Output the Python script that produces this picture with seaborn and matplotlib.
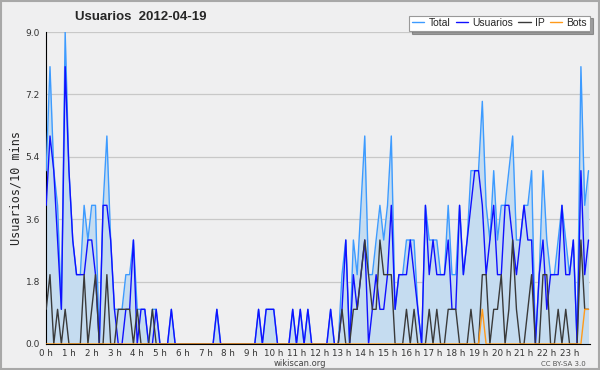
import numpy as np
import pandas as pd
import matplotlib
matplotlib.use("Agg")
import matplotlib.pyplot as plt
from matplotlib.patches import Rectangle
from matplotlib.ticker import MultipleLocator, FixedLocator
import seaborn as sns

# ─── DATA (users per 10 min, 2012-04-19) ────────────────
hour_labels = [f"{h} h" for h in range(24)]

usuarios = [4, 6, 5, 3, 1, 8, 5, 3, 2, 2, 2, 3,
            3, 2, 0, 4, 4, 3, 1, 0, 0, 1, 1, 3,
            0, 1, 1, 0, 0, 1, 0, 0, 0, 1, 0, 0,
            0, 0, 0, 0, 0, 0, 0, 0, 0, 1, 0, 0,
            0, 0, 0, 0, 0, 0, 0, 0, 1, 0, 1, 1,
            1, 0, 0, 0, 0, 1, 0, 1, 0, 1, 0, 0,
            0, 0, 0, 1, 0, 0, 1, 3, 0, 2, 1, 2,
            3, 0, 1, 2, 1, 1, 2, 4, 1, 2, 2, 2,
            3, 2, 1, 0, 4, 2, 3, 2, 2, 2, 3, 1,
            1, 4, 2, 3, 4, 5, 5, 4, 2, 3, 4, 2,
            2, 4, 4, 3, 2, 3, 4, 3, 3, 0, 2, 3,
            1, 2, 2, 2, 4, 2, 2, 3, 0, 5, 2, 3]

ip = [1, 2, 0, 1, 0, 1, 0, 0, 0, 0, 2, 0,
      1, 2, 0, 0, 2, 0, 0, 1, 1, 1, 1, 0,
      1, 0, 0, 0, 1, 0, 0, 0, 0, 0, 0, 0,
      0, 0, 0, 0, 0, 0, 0, 0, 0, 0, 0, 0,
      0, 0, 0, 0, 0, 0, 0, 0, 0, 0, 0, 0,
      0, 0, 0, 0, 0, 0, 0, 0, 0, 0, 0, 0,
      0, 0, 0, 0, 0, 0, 1, 0, 0, 1, 1, 2,
      3, 2, 1, 1, 3, 2, 2, 2, 0, 0, 0, 1,
      0, 1, 0, 0, 0, 1, 0, 1, 0, 0, 1, 1,
      1, 0, 0, 0, 1, 0, 0, 2, 2, 0, 1, 1,
      2, 0, 1, 3, 1, 0, 0, 1, 2, 0, 0, 2,
      2, 0, 0, 1, 0, 1, 0, 0, 0, 3, 1, 1]

bots = [0] * 115 + [1] + [0] * 26 + [1, 1]

total = [5, 8, 5, 4, 1, 9, 5, 3, 2, 2, 4, 3,
         4, 4, 0, 4, 6, 3, 1, 1, 1, 2, 2, 3,
         1, 1, 1, 0, 1, 1, 0, 0, 0, 1, 0, 0,
         0, 0, 0, 0, 0, 0, 0, 0, 0, 1, 0, 0,
         0, 0, 0, 0, 0, 0, 0, 0, 1, 0, 1, 1,
         1, 0, 0, 0, 0, 1, 0, 1, 0, 1, 0, 0,
         0, 0, 0, 1, 0, 0, 2, 3, 0, 3, 2, 4,
         6, 2, 2, 3, 4, 3, 4, 6, 1, 2, 2, 3,
         3, 3, 1, 0, 4, 3, 3, 3, 2, 2, 4, 2,
         2, 4, 2, 3, 5, 5, 5, 7, 4, 3, 5, 3,
         4, 4, 5, 6, 3, 3, 4, 4, 5, 0, 2, 5,
         3, 2, 2, 3, 4, 3, 2, 3, 0, 8, 4, 5]

slot = np.arange(len(total))
df = pd.DataFrame({"slot": slot, "Total": total, "Usuarios": usuarios,
                   "IP": ip, "Bots": bots})

colors = {"Total": "#3d9bff", "Usuarios": "#1010ff", "IP": "#3a3a3a", "Bots": "#ff9a1a"}
bg = "#efeff0"

# ─── PLOT ────────────────────────────────────────────────
sns.set_style("white")
plt.rcParams["font.family"] = ["DejaVu Sans"]

fig = plt.figure(figsize=(6, 3.7), dpi=100, facecolor=bg)
ax = fig.add_axes([0.077, 0.0703, 0.907, 0.8432])
ax.set_facecolor(bg)

ax.fill_between(df["slot"], df["Total"], color="#c5dcf0", lw=0, zorder=1)
for name in ["Total", "Usuarios", "IP", "Bots"]:
    sns.lineplot(data=df, x="slot", y=name, ax=ax, color=colors[name],
                 lw=1.0, label=name, zorder=3, legend=False)

ax.set_xlim(0, 143.5)
ax.set_ylim(0, 9)

ax.yaxis.set_major_locator(MultipleLocator(1.8))
ax.yaxis.set_minor_locator(MultipleLocator(0.6))
ax.yaxis.set_major_formatter(matplotlib.ticker.FormatStrFormatter("%.1f"))
ax.xaxis.set_major_locator(FixedLocator(np.arange(24) * 6))
ax.set_xticklabels(hour_labels)
ax.xaxis.set_minor_locator(MultipleLocator(1))

ax.tick_params(axis="both", which="both", direction="out", color="black",
               labelcolor="#333333", width=0.8)
ax.tick_params(axis="x", which="major", length=3.5, pad=0, labelsize=6.3)
ax.tick_params(axis="y", which="major", length=3.5, pad=1, labelsize=6.5)
ax.tick_params(axis="both", which="minor", length=3)

ax.grid(axis="y", color="#c8c8c8", lw=0.9, zorder=0)
sns.despine(ax=ax, top=True, right=True)
ax.spines["left"].set_color("black")
ax.spines["bottom"].set_color("black")
ax.set_xlabel("")
ax.set_ylabel("Usuarios/10 mins", family="DejaVu Sans Mono", fontsize=8.5, labelpad=2)

fig.text(0.125, 0.953, "Usuarios  2012-04-19", family="Liberation Sans",
         fontsize=9.5, weight="bold", va="center", ha="left")

handles, labels = ax.get_legend_handles_labels()
leg = fig.legend(handles, labels, loc="upper right", bbox_to_anchor=(0.983, 0.958),
                 ncol=4, prop={"family": "Liberation Sans", "size": 7.5},
                 frameon=True, fancybox=False, shadow=True,
                 handlelength=1.2, handletextpad=0.4, columnspacing=0.5,
                 borderpad=0.25, borderaxespad=0)
leg.get_frame().set_edgecolor("#999999")
leg.get_frame().set_linewidth(0.8)

fig.text(0.5, 0.017, "wikiscan.org", fontsize=6, color="#444444",
         ha="center", va="center")
fig.text(0.977, 0.017, "CC BY-SA 3.0", fontsize=5, color="#555555",
         ha="right", va="center")

fig.patches.append(Rectangle((0.002, 0.003), 0.996, 0.994, transform=fig.transFigure,
                             fill=False, edgecolor="#a8a8a8", lw=1.5))

fig.savefig("out.png", dpi=100, facecolor=bg)
